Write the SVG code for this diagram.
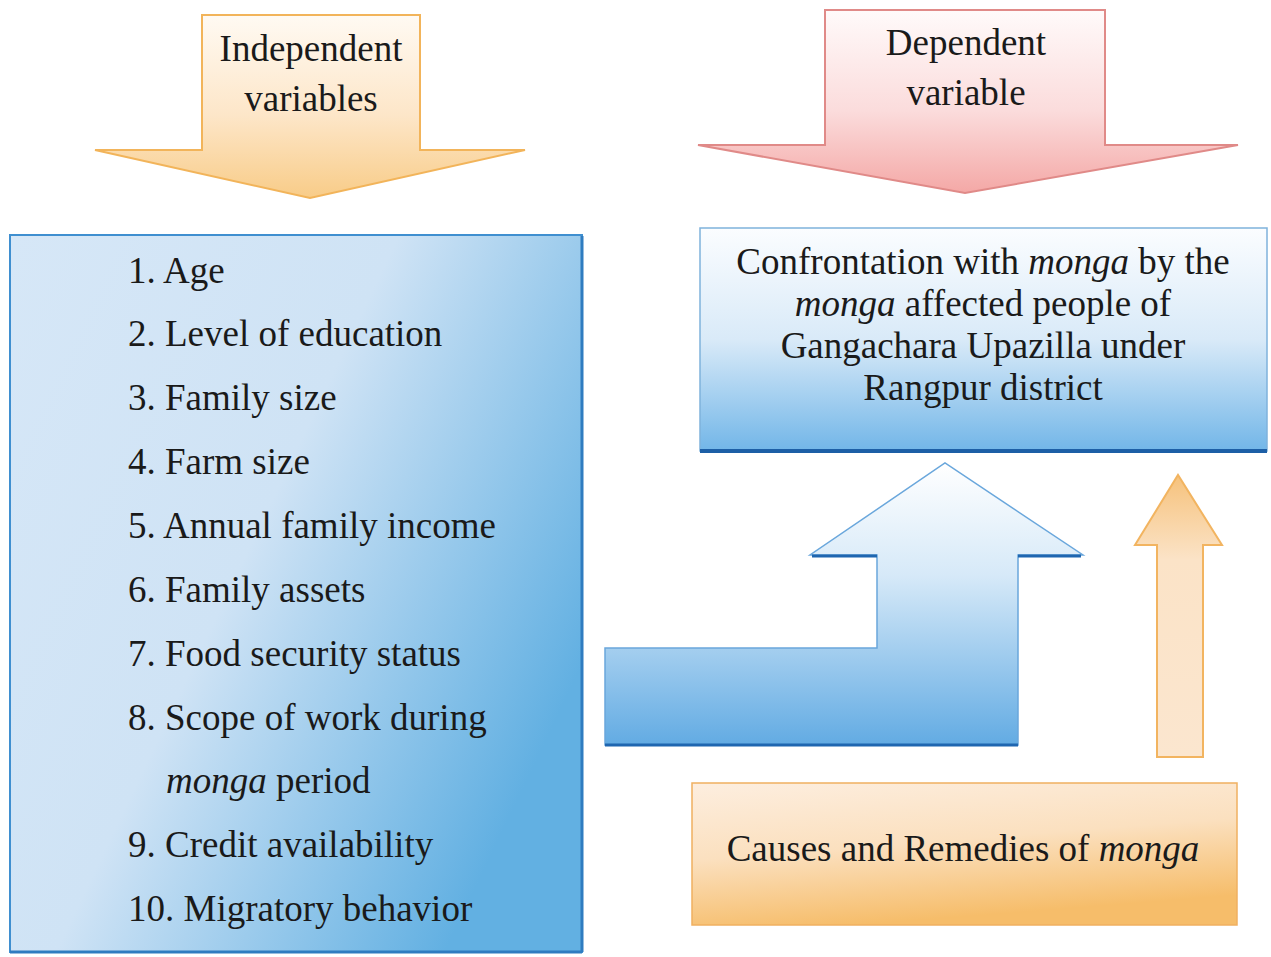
<svg xmlns="http://www.w3.org/2000/svg" width="1271" height="957" viewBox="0 0 1271 957">
<defs>
<linearGradient id="gOrangeV" x1="0" y1="0" x2="0" y2="1">
<stop offset="0" stop-color="#fffaf3"/><stop offset="0.55" stop-color="#fde6c8"/><stop offset="1" stop-color="#f8cc88"/>
</linearGradient>
<linearGradient id="gPinkV" x1="0" y1="0" x2="0" y2="1">
<stop offset="0" stop-color="#fffafa"/><stop offset="0.55" stop-color="#fbdcdc"/><stop offset="1" stop-color="#f4a8a6"/>
</linearGradient>
<linearGradient id="gListBlue" x1="0" y1="0" x2="1" y2="0.6">
<stop offset="0" stop-color="#d6e7f7"/><stop offset="0.5" stop-color="#cfe3f5"/><stop offset="1" stop-color="#62b0e2"/>
</linearGradient>
<linearGradient id="gBoxBlue" x1="0" y1="0" x2="0" y2="1">
<stop offset="0" stop-color="#fbfdff"/><stop offset="0.5" stop-color="#d9eaf8"/><stop offset="1" stop-color="#72b6e8"/>
</linearGradient>
<linearGradient id="gArrowBlue" x1="0" y1="0" x2="0" y2="1">
<stop offset="0" stop-color="#ffffff"/><stop offset="0.4" stop-color="#d6e9f8"/><stop offset="1" stop-color="#62abe3"/>
</linearGradient>
<linearGradient id="gSmallOrange" x1="0" y1="0" x2="0" y2="1">
<stop offset="0" stop-color="#f6c27c"/><stop offset="0.3" stop-color="#fbe3c7"/><stop offset="1" stop-color="#fbe6cf"/>
</linearGradient>
<linearGradient id="gCauses" x1="0" y1="0" x2="0.3" y2="1">
<stop offset="0" stop-color="#fdeedf"/><stop offset="0.5" stop-color="#fbe0bf"/><stop offset="1" stop-color="#f6bd6a"/>
</linearGradient>
<style>
text{font-family:"Liberation Serif","Times New Roman",serif;fill:#1a1a1a;}
.t{font-size:37px;}
.h{font-size:37px;text-anchor:middle;}
.c{font-size:37px;text-anchor:middle;}
.i{font-style:italic;}
</style>
</defs>

<g id="independent-arrow">
<polygon points="202,15 420,15 420,150 525,150 310,198 95,150 202,150" fill="url(#gOrangeV)" stroke="#f2b45a" stroke-width="2"/>
<text class="h" x="311" y="61">Independent</text>
<text class="h" x="311" y="111">variables</text>
</g>

<g id="dependent-arrow">
<polygon points="825,10 1105,10 1105,145 1238,145 965,193 698,145 825,145" fill="url(#gPinkV)" stroke="#e08a88" stroke-width="2"/>
<text class="h" x="966" y="55">Dependent</text>
<text class="h" x="966" y="105">variable</text>
</g>

<g id="independent-list">
<rect x="10" y="235" width="572" height="717" fill="url(#gListBlue)" stroke="#3f8fd0" stroke-width="2"/>
<line x1="582" y1="236" x2="582" y2="952" stroke="#2f7cc0" stroke-width="3"/>
<line x1="10" y1="952" x2="582" y2="952" stroke="#2f7cc0" stroke-width="3"/>
<text class="t" x="128" y="283">1. Age</text>
<text class="t" x="128" y="346">2. Level of education</text>
<text class="t" x="128" y="410">3. Family size</text>
<text class="t" x="128" y="474">4. Farm size</text>
<text class="t" x="128" y="538">5. Annual family income</text>
<text class="t" x="128" y="602">6. Family assets</text>
<text class="t" x="128" y="666">7. Food security status</text>
<text class="t" x="128" y="730">8. Scope of work during</text>
<text class="t" x="166" y="793"><tspan class="i">monga</tspan> period</text>
<text class="t" x="128" y="857">9. Credit availability</text>
<text class="t" x="128" y="921">10. Migratory behavior</text>
</g>

<g id="dependent-box">
<rect x="700" y="228" width="567" height="223" fill="url(#gBoxBlue)" stroke="#7fb2dc" stroke-width="1.5"/>
<line x1="700" y1="451" x2="1267" y2="451" stroke="#1d5fa6" stroke-width="4"/>
<text class="c" x="983" y="274">Confrontation with <tspan class="i">monga</tspan> by the</text>
<text class="c" x="983" y="316"><tspan class="i">monga</tspan> affected people of</text>
<text class="c" x="983" y="358">Gangachara Upazilla under</text>
<text class="c" x="983" y="400">Rangpur district</text>
</g>

<g id="causes-box">
<rect x="692" y="783" width="545" height="142" fill="url(#gCauses)" stroke="#f0b060" stroke-width="1.5"/>
<text class="c" x="963" y="861">Causes and Remedies of <tspan class="i">monga</tspan></text>
</g>

<g id="connectors">
<polygon points="605,648 877,648 877,555 810,555 945,463 1083,555 1018,555 1018,745 605,745" fill="url(#gArrowBlue)" stroke="#6aa7dc" stroke-width="1.5"/>
<polyline points="812,556 877,556" fill="none" stroke="#1f66b0" stroke-width="3"/>
<polyline points="1018,556 1081,556" fill="none" stroke="#1f66b0" stroke-width="3"/>
<line x1="605" y1="745" x2="1018" y2="745" stroke="#1f66b0" stroke-width="3"/>
<polygon points="1157,757 1157,545 1135,545 1178,475 1222,545 1203,545 1203,757" fill="url(#gSmallOrange)" stroke="#f2b460" stroke-width="2"/>
</g>
</svg>
